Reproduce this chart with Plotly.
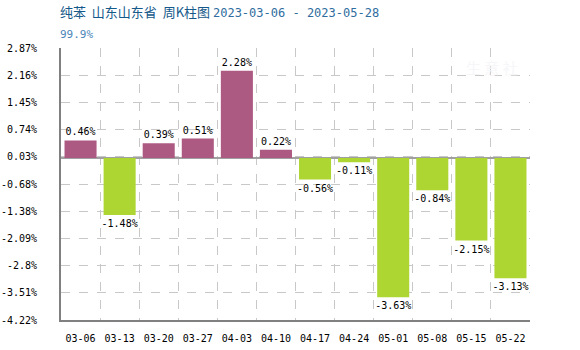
import plotly.graph_objects as go

# Weekly change of pure benzene price, Shandong
weeks = ["03-06", "03-13", "03-20", "03-27", "04-03", "04-10",
         "04-17", "04-24", "05-01", "05-08", "05-15", "05-22"]
changes = [0.46, -1.48, 0.39, 0.51, 2.28, 0.22,
           -0.56, -0.11, -3.63, -0.84, -2.15, -3.13]
y_ticks = [2.87, 2.16, 1.45, 0.74, 0.03, -0.68, -1.38, -2.09, -2.8, -3.51, -4.22]

UP = "#ac5a82"
DOWN = "#add633"
MONO = "DejaVu Sans Mono"

colors = [UP if v >= 0 else DOWN for v in changes]
labels = [f"{v:.2f}%" for v in changes]

fig = go.Figure(go.Bar(
    x=weeks,
    y=changes,
    marker=dict(color=colors, line=dict(width=0)),
    text=labels,
    textposition="outside",
    constraintext="none",
    textfont=dict(family=MONO, size=10, color="#000000"),
    cliponaxis=False,
    hoverinfo="skip",
))

fig.update_layout(
    width=580,
    height=350,
    margin=dict(l=61, r=50, t=48, b=30, autoexpand=False),
    paper_bgcolor="white",
    plot_bgcolor="white",
    showlegend=False,
    bargap=0.18,
    font=dict(family=MONO, size=10, color="#000000"),
    uniformtext=dict(mode=False),
    xaxis=dict(
        type="category",
        tickson="boundaries",
        tickangle=0,
        automargin=False,
        showgrid=True,
        gridcolor="#c8c8c8",
        griddash="dash",
        gridwidth=1,
        showline=True,
        linecolor="#808080",
        linewidth=2,
        ticks="",
        tickfont=dict(family=MONO, size=10, color="#000000"),
        ticklabelstandoff=8,
        zeroline=False,
    ),
    yaxis=dict(
        range=[y_ticks[-1], y_ticks[0]],
        automargin=False,
        tickvals=y_ticks,
        ticktext=[f"{v:g}%" for v in y_ticks],
        showgrid=True,
        gridcolor="#c8c8c8",
        griddash="dash",
        gridwidth=1,
        showline=True,
        linecolor="#808080",
        linewidth=2,
        zeroline=True,
        zerolinecolor="#a0a0a0",
        zerolinewidth=2,
        ticks="",
        ticklabelstandoff=20,
        tickfont=dict(family=MONO, size=10, color="#000000"),
    ),
    annotations=[
        dict(
            text="纯苯&nbsp;&nbsp;山东山东省&nbsp;&nbsp;周K柱图&nbsp;"
                 "<span style='font-family:DejaVu Sans Mono;font-size:12px;color:#2e6d9e'>"
                 "2023-03-06 - 2023-05-28</span>",
            xref="paper", yref="paper", x=0, y=1, xanchor="left", yanchor="bottom",
            xshift=-3, yshift=25,
            showarrow=False,
            font=dict(family="Noto Sans CJK SC", size=13, color="#14598a"),
        ),
        dict(
            text="99.9%",
            xref="paper", yref="paper", x=0, y=1, xanchor="left", yanchor="bottom",
            xshift=-3, yshift=5,
            showarrow=False,
            font=dict(family=MONO, size=11, color="#4a86b8"),
        ),
        dict(
            text="生 意 社",
            xref="paper", yref="paper", x=0.92, y=0.93, xanchor="center", yanchor="middle",
            showarrow=False,
            font=dict(family="Noto Sans CJK SC", size=15, color="#f6f6f9"),
        ),
    ],
)

fig.write_html("out.html")
